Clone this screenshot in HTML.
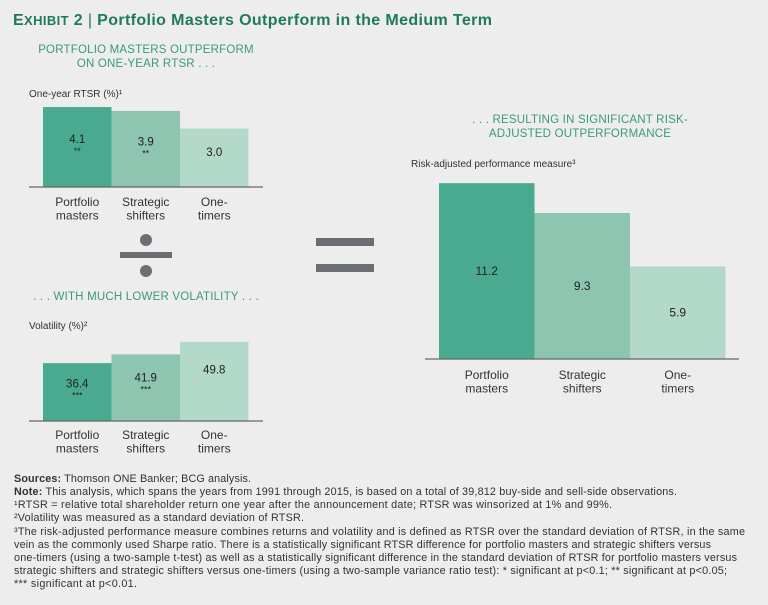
<!DOCTYPE html>
<html><head><meta charset="utf-8"><style>
html,body{margin:0;padding:0;background:#ededed;}
svg{display:block;font-family:"Liberation Sans",sans-serif;}
</style></head><body>
<svg width="768" height="605" viewBox="0 0 768 605">
<rect width="768" height="605" fill="#ededed"/>
<text x="13" y="25" font-size="16" font-weight="bold" fill="#1e7b57" textLength="479" lengthAdjust="spacing">E<tspan font-size="13">XHIBIT</tspan> 2 <tspan font-weight="normal">|</tspan> Portfolio Masters Outperform in the Medium Term</text>
<g fill="#3a9a78" font-size="11.5" text-anchor="middle" letter-spacing="0.2">
<text x="146" y="53">PORTFOLIO MASTERS OUTPERFORM</text>
<text x="146" y="67">ON ONE-YEAR RTSR . . .</text>
<text x="146" y="300">. . . WITH MUCH LOWER VOLATILITY . . .</text>
<text x="580" y="123">. . . RESULTING IN SIGNIFICANT RISK-</text>
<text x="580" y="137">ADJUSTED OUTPERFORMANCE</text>
</g>
<g fill="#333" font-size="10">
<text x="29" y="97">One-year RTSR (%)¹</text>
<text x="29" y="329">Volatility (%)²</text>
<text x="411" y="167">Risk-adjusted performance measure³</text>
</g>
<g fill="#6b6e72">
<circle cx="146" cy="240" r="6"/><rect x="120" y="252" width="52" height="6"/><circle cx="146" cy="271" r="6"/>
</g>
<g fill="#6b6e72">
<rect x="316" y="238" width="58" height="8"/><rect x="316" y="264" width="58" height="8"/>
</g>
<g id="charts"></g>
<g fill="#333" font-size="10.8" lengthAdjust="spacingAndGlyphs">
<text x="14" y="482" textLength="237"><tspan font-weight="bold">Sources:</tspan> Thomson ONE Banker; BCG analysis.</text>
<text x="14" y="495" textLength="663"><tspan font-weight="bold">Note:</tspan> This analysis, which spans the years from 1991 through 2015, is based on a total of 39,812 buy-side and sell-side observations.</text>
<text x="14" y="508" textLength="598">¹RTSR = relative total shareholder return one year after the announcement date; RTSR was winsorized at 1% and 99%.</text>
<text x="14" y="521" textLength="290">²Volatility was measured as a standard deviation of RTSR.</text>
<text x="14" y="535" textLength="731">³The risk-adjusted performance measure combines returns and volatility and is defined as RTSR over the standard deviation of RTSR, in the same</text>
<text x="14" y="548" textLength="697">vein as the commonly used Sharpe ratio. There is a statistically significant RTSR difference for portfolio masters and strategic shifters versus</text>
<text x="14" y="561" textLength="723">one-timers (using a two-sample t-test) as well as a statistically significant difference in the standard deviation of RTSR for portfolio masters versus</text>
<text x="14" y="574" textLength="713">strategic shifters and strategic shifters versus one-timers (using a two-sample variance ratio test): * significant at p&lt;0.1; ** significant at p&lt;0.05;</text>
<text x="14" y="587" textLength="123">*** significant at p&lt;0.01.</text>
</g>
</svg>
<script>
const categories = [["Portfolio","masters"],["Strategic","shifters"],["One-","timers"]];
const rtsrValues = [4.1, 3.9, 3.0];
const rtsrStars = ["**","**",""];
const volValues = [36.4, 41.9, 49.8];
const volStars = ["***","***",""];
const riskValues = [11.2, 9.3, 5.9];
const riskStars = ["","",""];
const colors = ["#4aaa8f","#8dc5b1","#b2d9c9"];
const NS = "http://www.w3.org/2000/svg";
const root = document.getElementById("charts");
function mk(tag, attrs, parent){const e=document.createElementNS(NS,tag);for(const k in attrs)e.setAttribute(k,attrs[k]);parent.appendChild(e);return e;}
function chart(name, values, stars, cfg){
  const g = mk("g",{},root);
  
  
  const y = v => cfg.base - v*cfg.scale;
  values.forEach((v,i)=>{
    const x0 = cfg.x0 + i*cfg.bw;
    const r = mk("rect",{x:x0,y:y(v),width:cfg.bw,height:cfg.base-y(v),fill:colors[i]},g);
    
    
    const ly = y(v) + (cfg.base-y(v))*cfg.labelFrac + 4;
    const t = mk("text",{x:x0+cfg.bw/2,y:ly,"text-anchor":"middle","font-size":cfg.fs,fill:"#222"},g);
    t.textContent = v.toFixed(1);
    
    
    if(stars[i]){
      const s = mk("text",{x:x0+cfg.bw/2,y:ly+11,"text-anchor":"middle","font-size":9,fill:"#222"},g);
      s.textContent = stars[i];
      
      
    }
    categories[i].forEach((line,j)=>{
      const c = mk("text",{x:x0+cfg.bw/2,y:cfg.base+cfg.catOff+j*13.5,"text-anchor":"middle","font-size":cfg.cfs,fill:"#333"},g);
      c.textContent = line;
      
      
    });
  });
  const a = mk("line",{x1:cfg.ax0,x2:cfg.ax1,y1:cfg.base,y2:cfg.base,stroke:"#666","stroke-width":1.2},g);
  
  
}
chart("rtsr-chart", rtsrValues, rtsrStars, {base:187,scale:19.5,x0:43,bw:68.5,ax0:29,ax1:263,labelFrac:0.4,fs:11.5,cfs:12,catOff:19});
chart("volatility-chart", volValues, volStars, {base:421,scale:1.59,x0:43,bw:68.5,ax0:29,ax1:263,labelFrac:0.35,fs:11.5,cfs:12,catOff:18});
chart("risk-chart", riskValues, riskStars, {base:359,scale:15.7,x0:439,bw:95.5,ax0:425,ax1:739,labelFrac:0.5,fs:12,cfs:12,catOff:20});
</script>
</body></html>
